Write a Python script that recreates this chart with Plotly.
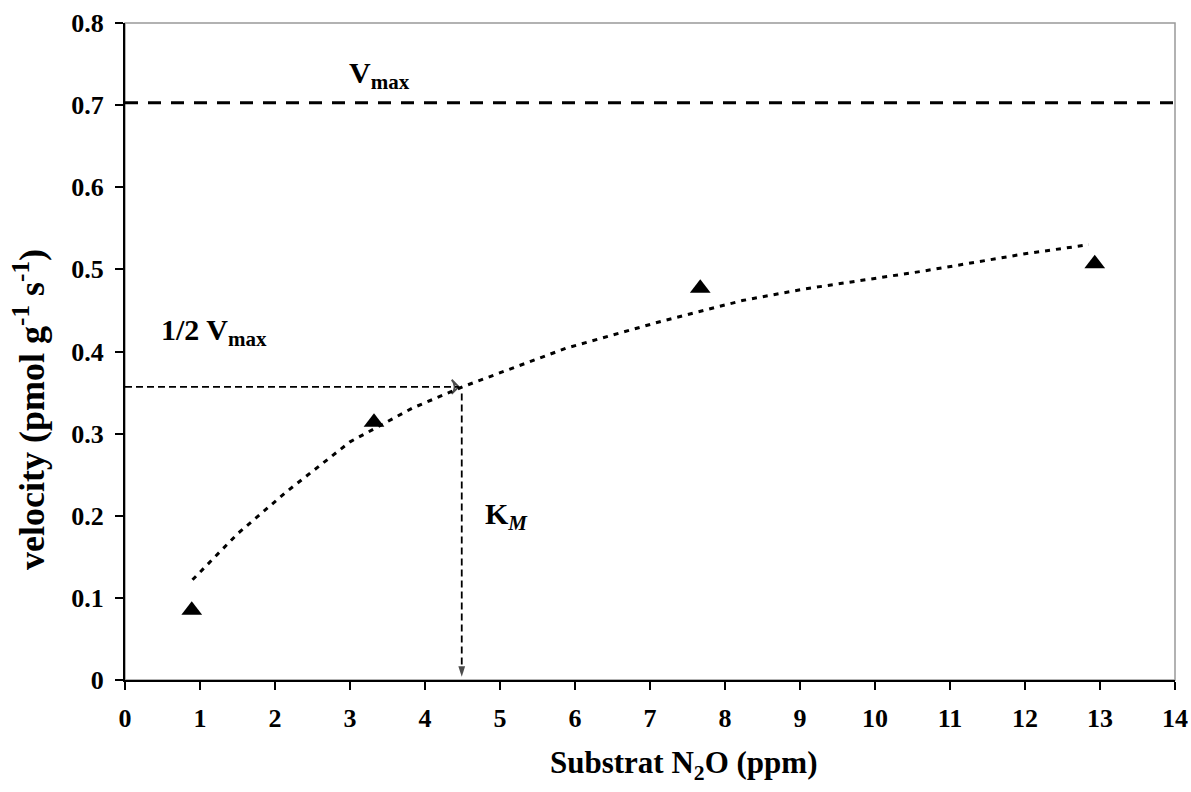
import plotly.graph_objects as go

# Measured data points
substrate = [0.89, 3.32, 7.67, 12.93]
velocity = [0.085, 0.314, 0.477, 0.507]

# Fitted (Michaelis-Menten trend) curve
fit_x = [0.9, 1.5, 2.15, 3.0, 3.83, 4.5, 5.88, 7.16, 8.23, 9.05, 10.65, 12.0, 12.85]
fit_y = [0.122, 0.178, 0.229, 0.290, 0.331, 0.357, 0.404, 0.437, 0.462, 0.476, 0.498, 0.519, 0.530]

vmax = 0.703
half_vmax = 0.357
km = 4.49

x_ticks = list(range(0, 15))
y_ticks = [0, 0.1, 0.2, 0.3, 0.4, 0.5, 0.6, 0.7, 0.8]
y_tick_text = ["0", "0.1", "0.2", "0.3", "0.4", "0.5", "0.6", "0.7", "0.8"]

FONT = "Liberation Serif, Times New Roman, serif"

fig = go.Figure()

# Vmax line
fig.add_trace(go.Scatter(x=[0, 14], y=[vmax, vmax], mode="lines",
                         line=dict(color="black", width=3, dash="13px,10px"),
                         hoverinfo="skip", showlegend=False))

# Fit curve
fig.add_trace(go.Scatter(x=fit_x, y=fit_y, mode="lines",
                         line=dict(color="black", width=3, dash="5px,6px"),
                         hoverinfo="skip", showlegend=False))

# 1/2 Vmax horizontal line with arrow
fig.add_trace(go.Scatter(x=[0, km - 0.04], y=[half_vmax, half_vmax], mode="lines+markers",
                         line=dict(color="black", width=1.8, dash="7px,4px"),
                         marker=dict(symbol=["circle", "arrow-wide-open"], size=[0, 10],
                                     angleref="previous", color="black",
                                     line=dict(color="black", width=1.8)),
                         hoverinfo="skip", showlegend=False))

# Km vertical line with arrow
fig.add_trace(go.Scatter(x=[km, km], y=[half_vmax - 0.008, 0.004], mode="lines+markers",
                         line=dict(color="black", width=1.8, dash="7px,4px"),
                         marker=dict(symbol=["circle", "arrow"], size=[0, 11],
                                     angleref="previous", color="black",
                                     line=dict(width=0)),
                         hoverinfo="skip", showlegend=False))

# Data points
fig.add_trace(go.Scatter(x=substrate, y=velocity, mode="markers",
                         marker=dict(symbol="triangle-up", size=18, color="black"),
                         showlegend=False))

fig.add_shape(type="rect", xref="paper", yref="paper", x0=0, x1=1, y0=0, y1=1,
              line=dict(color="#999999", width=1.5), layer="below")

ann_font = dict(family=FONT, size=30, color="black", weight="bold")
fig.add_annotation(x=2.96, y=0.737, xref="x", yref="y", xanchor="left", yanchor="middle",
                   text="V<sub>max</sub>", showarrow=False, font=ann_font)
fig.add_annotation(x=0.45, y=0.424, xref="x", yref="y", xanchor="left", yanchor="middle",
                   text="1/2 V<sub>max</sub>", showarrow=False, font=ann_font)
fig.add_annotation(x=4.77, y=0.2, xref="x", yref="y", xanchor="left", yanchor="middle",
                   text="K<sub><i>M</i></sub>", showarrow=False, font=ann_font)

fig.add_annotation(x=-0.0905, y=0.4125, xref="paper", yref="paper", textangle=-90,
                   xanchor="center", yanchor="middle",
                   text="velocity (pmol g<sup>-1</sup> s<sup>-1</sup>)", showarrow=False,
                   font=dict(family=FONT, size=36, color="black", weight="bold"))
fig.add_annotation(x=0.532, y=-0.129, xref="paper", yref="paper",
                   xanchor="center", yanchor="middle",
                   text="Substrat N<sub>2</sub>O (ppm)", showarrow=False,
                   font=dict(family=FONT, size=31, color="black", weight="bold"))

fig.update_layout(
    width=1191, height=792,
    margin=dict(l=125, r=16, t=23, b=112),
    paper_bgcolor="white", plot_bgcolor="white",
    font=dict(family=FONT, color="black"),
    showlegend=False,
)
fig.update_xaxes(range=[0, 14], tickvals=x_ticks, ticktext=[str(v) for v in x_ticks],
                 showgrid=False, zeroline=False, showline=True, linecolor="black", linewidth=2,
                 ticks="outside", ticklen=8, tickwidth=1.5, tickcolor="black",
                 ticklabelstandoff=6, automargin=False,
                 tickfont=dict(family=FONT, size=26, color="black", weight="bold"))
fig.update_yaxes(range=[0, 0.8], tickvals=y_ticks, ticktext=y_tick_text,
                 showgrid=False, zeroline=False, showline=True, linecolor="black", linewidth=2,
                 ticks="outside", ticklen=8, tickwidth=1.5, tickcolor="black",
                 ticklabelstandoff=6, automargin=False,
                 tickfont=dict(family=FONT, size=26, color="black", weight="bold"))

fig.write_html("out.html", config={"displayModeBar": False},
               post_script="document.body.style.margin='0';document.body.style.overflow='hidden';")
